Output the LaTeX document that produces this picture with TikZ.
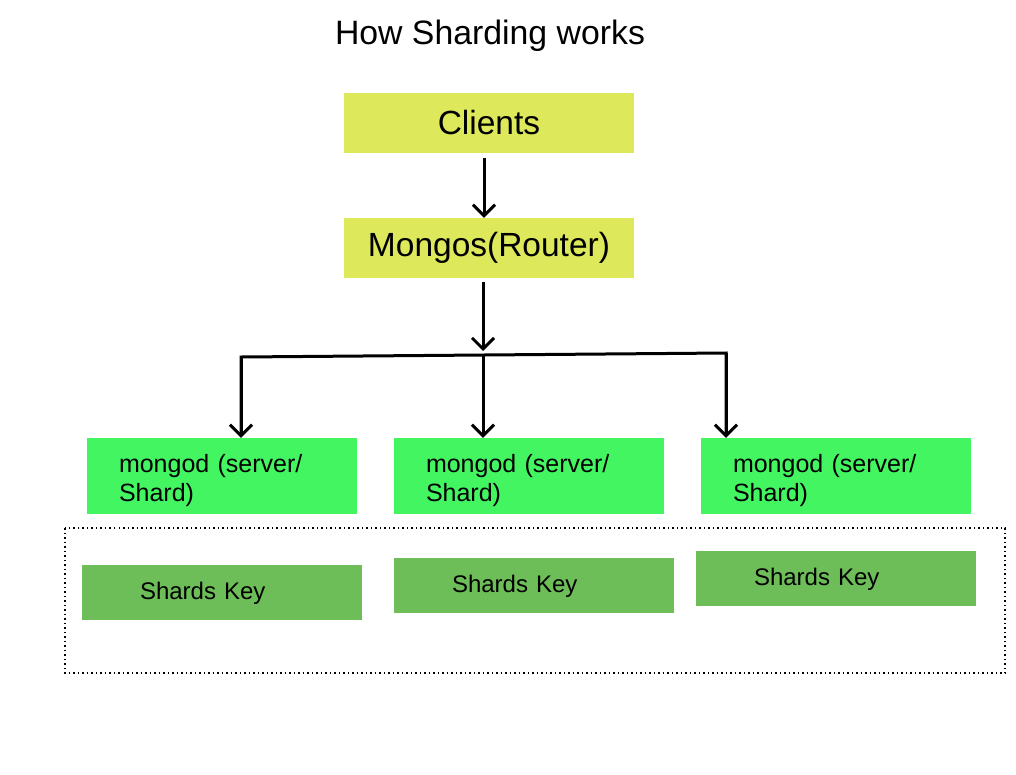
\documentclass[tikz,border=0pt]{standalone}
\usepackage{fontspec}
\setmainfont{Liberation Sans}
\usetikzlibrary{arrows.meta}
\definecolor{clientfill}{RGB}{221,232,90}
\definecolor{shardfill}{RGB}{68,245,98}
\definecolor{keyfill}{RGB}{109,189,88}

\begin{document}
\begin{tikzpicture}[x=1pt,y=-1pt,
	top/.style={fill=clientfill,minimum width=290pt,minimum height=60pt,inner sep=0,font=\fontsize{33.5}{40}\selectfont},
	shard/.style={fill=shardfill,minimum width=270pt,minimum height=76pt,inner xsep=32pt,inner ysep=0,text width=206pt,align=left,font=\fontsize{25}{29}\selectfont},
	key/.style={fill=keyfill,minimum width=280pt,minimum height=55pt,inner xsep=58pt,inner ysep=0,text width=164pt,align=left,font=\fontsize{24}{29}\selectfont},
	link/.style={line width=3pt,-{Straight Barb[length=11pt,width=22pt]}}]
	\useasboundingbox[fill=white] (0,0) rectangle (1016,774);
	\node[font=\fontsize{33.8}{40}\selectfont] (title) at (490,36) {How Sharding works};
	\node[top] (clients) at (489,123) {Clients};
	\node[top] (mongos) at (489,248) {\rule[-3pt]{0pt}{27pt}Mongos(Router)};
	\node[shard] (m1) at (222,476) {\rule{0pt}{27pt}mongod (server/\\Shard)};
	\node[shard] (m2) at (529,476) {\rule{0pt}{27pt}mongod (server/\\Shard)};
	\node[shard] (m3) at (836,476) {\rule{0pt}{27pt}mongod (server/\\Shard)};
	\draw[line width=1.5pt,dash pattern=on 1.5pt off 3pt] (65,528) rectangle (1005,673);
	\node[key] (k1) at (222,592.5) {\rule[-6pt]{0pt}{26pt}Shards Key};
	\node[key] (k2) at (534,585.5) {\rule[-6pt]{0pt}{26pt}Shards Key};
	\node[key] (k3) at (836,578.5) {\rule[-6pt]{0pt}{26pt}Shards Key};
	\coordinate (barL) at (241,357);
	\coordinate (barM) at (483,355);
	\coordinate (barR) at (726,353);
	\draw[link,shorten <=5pt] (clients.south -| 484,0) -- (mongos.north -| 484,0);
	\draw[link,shorten <=4pt,shorten >=4pt] (mongos.south -| barM) -- (barM);
	\draw[line width=3pt,line join=miter] (barL |- m1.north) ++(0,-2) -- (barL) -- (barR) -- ++(0,80);
	\draw[link] (barL) -- (barL |- m1.north);
	\draw[link] (barM) -- (barM |- m2.north);
	\draw[link] (barR) -- (barR |- m3.north);
\end{tikzpicture}
\end{document}
